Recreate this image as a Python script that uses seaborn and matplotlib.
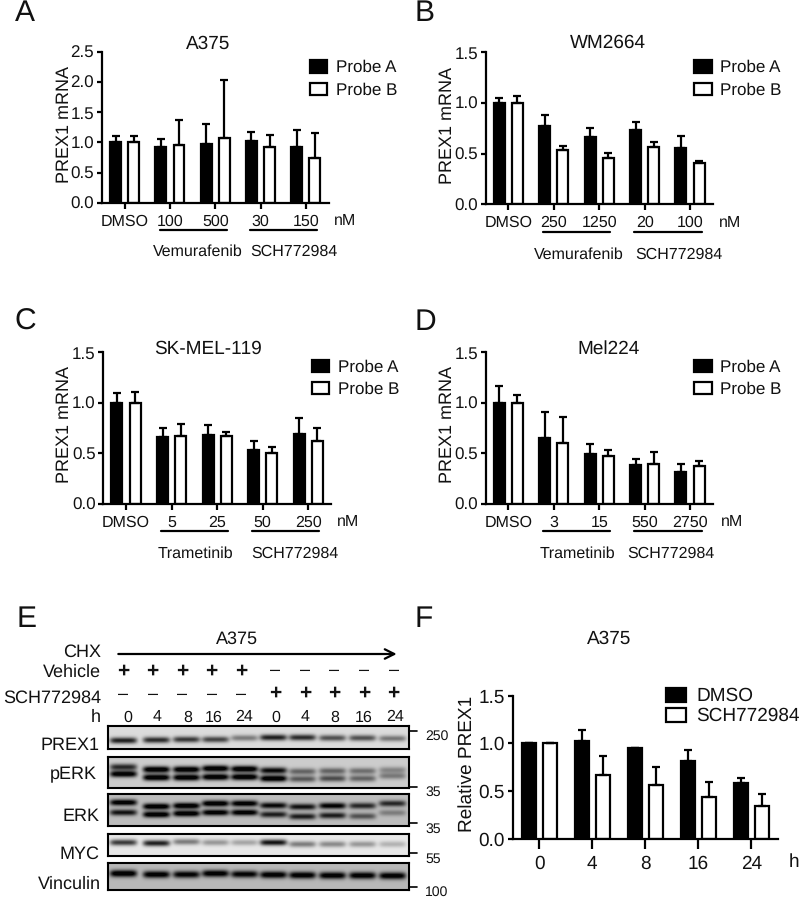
import numpy as np
import pandas as pd
import matplotlib
matplotlib.use("Agg")
import matplotlib.pyplot as plt
import seaborn as sns
from matplotlib.lines import Line2D
from matplotlib.patches import FancyArrowPatch

# values
probes = ["Probe A", "Probe B"]

a_doses = ["DMSO", "100", "500", "30", "150"]
a_probe_a = [1.0, 0.92, 0.97, 1.03, 0.93]
a_probe_b = [1.0, 0.96, 1.08, 0.92, 0.74]
a_top_a = [1.11, 1.05, 1.31, 1.17, 1.20]
a_top_b = [1.11, 1.38, 2.04, 1.12, 1.15]

b_doses = ["DMSO", "250", "1250", "20", "100"]
b_probe_a = [1.0, 0.77, 0.66, 0.73, 0.56]
b_probe_b = [1.0, 0.54, 0.46, 0.57, 0.41]
b_top_a = [1.05, 0.88, 0.75, 0.81, 0.67]
b_top_b = [1.07, 0.58, 0.51, 0.615, 0.43]

c_doses = ["DMSO", "5", "25", "50", "250"]
c_probe_a = [1.0, 0.66, 0.68, 0.53, 0.69]
c_probe_b = [1.0, 0.67, 0.67, 0.50, 0.62]
c_top_a = [1.10, 0.755, 0.78, 0.62, 0.855]
c_top_b = [1.11, 0.79, 0.715, 0.56, 0.75]

d_doses = ["DMSO", "3", "15", "550", "2750"]
d_probe_a = [1.0, 0.65, 0.49, 0.39, 0.32]
d_probe_b = [1.0, 0.60, 0.47, 0.40, 0.38]
d_top_a = [1.17, 0.905, 0.595, 0.445, 0.395]
d_top_b = [1.08, 0.865, 0.535, 0.51, 0.425]

f_hours = ["0", "4", "8", "16", "24"]
f_dmso = [1.0, 1.02, 0.95, 0.81, 0.58]
f_sch = [1.0, 0.67, 0.56, 0.44, 0.34]
f_top_dmso = [1.0, 1.14, 0.95, 0.935, 0.64]
f_top_sch = [1.0, 0.865, 0.75, 0.60, 0.47]

# blot: band row inside each panel and how dark it is, one value per lane
lane_hours = ["0", "4", "8", "16", "24", "0", "4", "8", "16", "24"]
prex1_row = [14, 13.5, 13, 13, 11.5, 11, 11, 11.5, 11.5, 12]
prex1_dark = [0.75, 0.7, 0.65, 0.6, 0.38, 0.75, 0.7, 0.55, 0.55, 0.4]
perk_row_up = [9.5, 12, 12, 11, 11.5, 13, 14, 13.5, 13.5, 12.5]
perk_dark_up = [0.7, 1, 1, 1, 1, 0.85, 0.45, 0.45, 0.4, 0.3]
perk_row_lo = [16.5, 20, 20, 19.5, 19.5, 21, 21.5, 21, 21, 18.5]
perk_dark_lo = [0.95, 1, 1, 1, 1, 1, 0.5, 0.55, 0.45, 0.35]
erk_row_up = [8, 12, 11.3, 9, 9, 11, 12.3, 11.3, 11.3, 9]
erk_dark_up = [0.95, 1, 1, 1, 0.95, 0.85, 0.8, 0.9, 0.7, 0.7]
erk_row_lo = [18, 20, 19, 18, 18, 20, 22, 21, 21.7, 18.3]
erk_dark_lo = [0.8, 1, 1, 0.95, 0.95, 0.75, 0.75, 0.75, 0.5, 0.3]
myc_row = [8, 8.7, 7.3, 8, 8, 8, 9.7, 9.7, 9.7, 9.7]
myc_dark = [0.65, 0.75, 0.4, 0.3, 0.25, 0.8, 0.4, 0.35, 0.3, 0.2]
vinc_row = [10, 11, 11, 10, 10.7, 11.3, 11.7, 12, 12, 12.3]
vinc_dark = [1, 0.95, 0.9, 0.95, 0.9, 0.95, 0.95, 0.95, 0.95, 0.95]

FONT = "Liberation Sans"
W, H = 800, 899
INK = "#111111"
LW = 1.6

sns.set_theme(style="ticks")
plt.rcParams["font.family"] = [FONT, "DejaVu Sans"]
plt.rcParams["text.color"] = INK
plt.rcParams["text.hinting"] = "no_hinting"
plt.rcParams["text.hinting_factor"] = 1

fig = plt.figure(figsize=(W / 100, H / 100), dpi=100, facecolor="white")


def ptext(x, y, s, size, ha="left", va="center", **kw):
    return fig.text(x / W, 1 - y / H, s, fontsize=size, ha=ha, va=va, **kw)


def pline(x0, x1, y0, y1=None, lw=LW):
    y1 = y0 if y1 is None else y1
    fig.add_artist(Line2D([x0 / W, x1 / W], [1 - y0 / H, 1 - y1 / H], color="black", lw=lw))


def bars(box, cats, names, v1, v2, t1, t2, ymax, ticks, gap=0.4, fs=11.8, yfs=12, xlen=4.2, xpad=4, cap=3):
    x0, y0, x1, y1 = box
    ax = fig.add_axes([x0 / W, 1 - y1 / H, (x1 - x0) / W, (y1 - y0) / H])
    df = pd.DataFrame({
        "cat": cats * 2,
        "group": [names[0]] * 5 + [names[1]] * 5,
        "value": v1 + v2,
    })
    sns.barplot(data=df, x="cat", y="value", hue="group", order=cats, hue_order=names,
                palette={names[0]: "black", names[1]: "white"}, edgecolor="black",
                linewidth=LW, width=0.8, gap=gap, errorbar=None, saturation=1, ax=ax)
    # upper error bars only, as in the paper
    for cont, vals, tops in zip(ax.containers, [v1, v2], [t1, t2]):
        xs = [p.get_x() + p.get_width() / 2 for p in cont]
        up = np.array(tops) - np.array(vals)
        ax.errorbar(xs, vals, yerr=[np.zeros(5), up], fmt="none", ecolor="black",
                    elinewidth=LW, capsize=cap, capthick=LW)
    ax.set_xlim(-0.5, 4.5)
    ax.set_ylim(0, ymax)
    ax.set_yticks(ticks)
    ax.set_yticklabels([f"{t:.1f}" for t in ticks], fontsize=yfs)
    ax.set_xlabel("")
    ax.set_ylabel("")
    ax.tick_params(axis="x", length=xlen, width=LW, labelsize=fs, pad=xpad, color="black", labelcolor=INK)
    ax.tick_params(axis="y", length=3.6, width=LW, pad=2, color="black", labelcolor=INK)
    for side in ["left", "bottom"]:
        ax.spines[side].set_linewidth(LW)
        ax.spines[side].set_color("black")
    sns.despine(ax=ax)
    ax.patch.set_alpha(0)
    return ax


def add_legend(ax, x, y, fs=12, spacing=0.4, hl=1.04, hh=0.74, pad=0.5):
    handles, labels = ax.get_legend_handles_labels()
    ax.legend(handles, labels, loc="upper left", bbox_to_anchor=(x / W, 1 - y / H),
              bbox_transform=fig.transFigure, frameon=False, fontsize=fs, borderpad=0,
              borderaxespad=0, handlelength=hl, handleheight=hh, handletextpad=pad,
              labelspacing=spacing)


def dose_notes(u1, u2, uy, nx, ny, gy, left, lx, sx):
    pline(u1[0], u1[1], uy)
    pline(u2[0], u2[1], uy)
    ptext(nx, ny, "nM", 11.8)
    ptext(lx, gy, left, 11.6)
    ptext(sx, gy, "SCH772984", 11.6)


def blot(box, rows, darks, bg, sigma):
    x0, y0, x1, y1 = box
    ax = fig.add_axes([x0 / W, 1 - y1 / H, (x1 - x0) / W, (y1 - y0) / H])
    nrow, ncol = int(round(y1 - y0)), int(round(x1 - x0))
    yy, xx = np.mgrid[0:nrow, 0:ncol]
    img = np.zeros((nrow, ncol))
    for row, dark in zip(rows, darks):
        for c, r, d in zip(lane_cols, row, dark):
            img += d * np.exp(-((xx - c) / 13.5) ** 6) * np.exp(-0.5 * ((yy - r) / sigma) ** 2)
    img = bg * (1 - np.clip(img * 1.15, 0, 0.98))
    sns.heatmap(img, cmap="gray", vmin=0, vmax=1, cbar=False, xticklabels=False,
                yticklabels=False, ax=ax)
    for sp in ax.spines.values():
        sp.set_visible(True)
        sp.set_linewidth(1.5)
        sp.set_color("black")


# A
ax = bars((102, 52, 328.5, 202.7), a_doses, probes, a_probe_a, a_probe_b, a_top_a, a_top_b,
          2.5, [0, 0.5, 1, 1.5, 2, 2.5])
add_legend(ax, 310, 60)
dose_notes((160, 226.7), (250, 316.7), 230, 334, 221, 252, "Vemurafenib", 152.7, 250)
ptext(64.3, 124, "PREX1 mRNA", 13, ha="center", rotation=90)
ptext(208, 43.7, "A375", 13.5, ha="center")
ptext(15, 13, "A", 21.5)

# B
ax = bars((485.7, 52.3, 712.7, 204.3), b_doses, probes, b_probe_a, b_probe_b, b_top_a, b_top_b,
          1.5, [0, 0.5, 1, 1.5])
add_legend(ax, 694.3, 60)
dose_notes((543.3, 610), (634.3, 701.7), 232.3, 719.3, 222.7, 254.3, "Vemurafenib", 534.3, 635.7)
ptext(447, 125, "PREX1 mRNA", 13, ha="center", rotation=90)
ptext(608.3, 43.3, "WM2664", 13.5, ha="center")
ptext(415, 13, "B", 21.5)

# C
ax = bars((103.3, 352.3, 331, 504), c_doses, probes, c_probe_a, c_probe_b, c_top_a, c_top_b,
          1.5, [0, 0.5, 1, 1.5])
add_legend(ax, 312, 359.3)
dose_notes((160.7, 227.7), (252.3, 319), 531, 337.3, 522.3, 554, "Trametinib", 157.7, 251.7)
ptext(64, 424, "PREX1 mRNA", 13, ha="center", rotation=90)
ptext(207.7, 349.3, "SK-MEL-119", 13.5, ha="center")
ptext(14, 322, "C", 21.5)

# D
ax = bars((485.7, 352.3, 712.7, 504), d_doses, probes, d_probe_a, d_probe_b, d_top_a, d_top_b,
          1.5, [0, 0.5, 1, 1.5])
add_legend(ax, 694.3, 359.3)
dose_notes((543.3, 610), (634.3, 701.7), 531, 721, 522.3, 554, "Trametinib", 539.3, 627.3)
ptext(447, 424, "PREX1 mRNA", 13, ha="center", rotation=90)
ptext(608.3, 349, "Mel224", 13.5, ha="center")
ptext(415, 322, "D", 21.5)

# F
ax = bars((512.7, 695.7, 778, 838.7), f_hours, ["DMSO", "SCH772984"], f_dmso, f_sch, f_top_dmso, f_top_sch,
          1.5, [0, 0.5, 1, 1.5], gap=0.35, fs=13.5, yfs=13.5, xlen=7, xpad=5, cap=3)
add_legend(ax, 665.5, 687.5, fs=13.4, spacing=0.12, hl=1.1, hh=0.8, pad=0.55)
ptext(467, 764, "Relative PREX1", 13.6, ha="center", rotation=90)
ptext(609, 639, "A375", 13.5, ha="center")
ptext(794, 861.7, "h", 13.5, ha="center")
ptext(415, 619, "F", 21.5)

# E - western blot
lane_cols = [15, 48, 78, 107, 136, 165, 194, 224, 254, 284]
lane_text = [128.3, 157.3, 187.7, 213.3, 243.7, 275.7, 305, 334.3, 364, 395]
sign_x = [123, 152.7, 182.3, 211.7, 241, 275, 305, 334.3, 364.3, 393.7]

ptext(17, 619, "E", 21.5)
ptext(236.7, 639, "A375", 13, ha="center")
fig.add_artist(FancyArrowPatch(
    (118.3 / W, 1 - 654 / H), (396.7 / W, 1 - 654 / H), transform=fig.transFigure,
    arrowstyle="->", mutation_scale=17, lw=1.6, color="black", shrinkA=0, shrinkB=0))
for lab, y in zip(["CHX", "Vehicle", "SCH772984", "h"], [651.7, 672, 698, 717.3]):
    ptext(101, y, lab, 13.1, ha="right")
for i, (sx, tx) in enumerate(zip(sign_x, lane_text)):
    ptext(sx, 671 if i < 5 else 670, "+" if i < 5 else "\u2013", 15 if i < 5 else 13, ha="center", fontweight="bold" if i < 5 else "normal")
    ptext(sx, 694 if i < 5 else 693, "\u2013" if i < 5 else "+", 13 if i < 5 else 15, ha="center", fontweight="normal" if i < 5 else "bold")
    ptext(tx, 717.3, lane_hours[i], 11.8, ha="center")

blot((108, 726, 409, 749), [prex1_row], [prex1_dark], 0.86, 2.2)
blot((108, 757, 409, 788), [perk_row_up, perk_row_lo], [perk_dark_up, perk_dark_lo], 0.80, 2.3)
blot((108, 794, 409, 826), [erk_row_up, erk_row_lo], [erk_dark_up, erk_dark_lo], 0.74, 2.2)
blot((108, 834, 409, 856), [myc_row], [myc_dark], 0.91, 2.2)
blot((108, 863, 409, 890), [vinc_row], [vinc_dark], 0.72, 2.5)

for lab, x, y in [("PREX1", 100, 745.7), ("pERK", 96.7, 774.3), ("ERK", 100, 816),
                  ("MYC", 100, 854.3), ("Vinculin", 101, 884)]:
    ptext(x, y, lab, 13.1, ha="right")
for tick_y, lab_y, lab in [(730.7, 736.7, "250"), (786.7, 792.7, "35"), (822.7, 829, "35"),
                           (852.7, 859, "55"), (887.3, 892, "100")]:
    pline(410, 417, tick_y, lw=1.2)
    ptext(425, lab_y, lab, 10.3)

fig.savefig("out.png", dpi=100)
